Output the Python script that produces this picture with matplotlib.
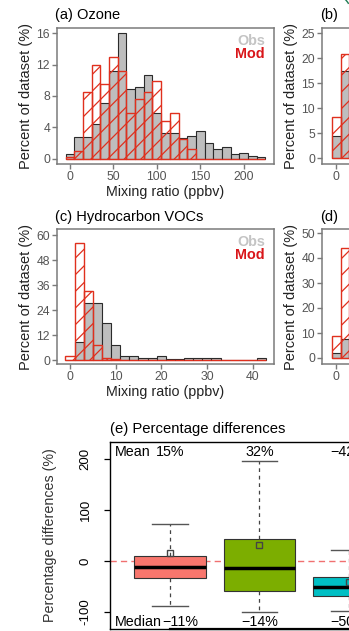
import matplotlib
matplotlib.use("Agg")
import matplotlib.pyplot as plt
from matplotlib.patches import Arc

plt.rcParams["font.family"] = ["Liberation Sans", "DejaVu Sans"]
plt.rcParams["axes.unicode_minus"] = False
plt.rcParams["hatch.linewidth"] = 0.9

# =========================
# Histogram data (percent of dataset in each bin)
# =========================
o3_bins = list(range(0, 230, 10))
o3_obs = [0.6, 2.8, 2.8, 4.4, 7.1, 11.2, 16.0, 8.9, 9.2, 10.7, 5.8, 3.3,
          3.3, 2.7, 2.9, 3.6, 2.0, 1.2, 1.5, 0.6, 0.7, 0.4, 0.2]
o3_mod = [0.2, 1.0, 8.5, 11.9, 9.5, 13.0, 11.2, 5.8, 7.6, 8.5, 9.9, 4.8,
          5.9, 2.5, 1.3, 0, 0, 0, 0, 0, 0, 0, 0]

voc_bins = list(range(0, 44, 2))
voc_obs = [0, 8.8, 27.5, 27.5, 17.6, 7.2, 1.9, 1.9, 1.0, 1.0, 2.0, 0.3,
           0.3, 1.0, 1.0, 1.0, 1.0, 0, 0, 0, 0, 1.0]
voc_mod = [1.9, 56.0, 33.3, 7.2, 1.0, 0.5, 0.2, 0, 0, 0, 0, 0,
           0, 0, 0, 0, 0, 0, 0, 0, 0, 0]

b_bins = [0, 1]
b_obs = [4.4, 17.5]
b_mod = [8.3, 20.8]

d_bins = [0, 1]
d_obs = [2.0, 7.5]
d_mod = [9.0, 44.0]

# =========================
# Box plot data (percentage differences, %)
# =========================
box_pos = [1, 2, 3]
box_whislo = [-87.5, -99.0, -97.0]
box_q1 = [-32.7, -58.7, -68.5]
box_med = [-11.0, -14.0, -50.0]
box_q3 = [9.8, 42.4, -30.7]
box_whishi = [72.0, 195.7, 21.5]
box_mean = [15.0, 32.0, -42.0]
box_colors = ["#F8766D", "#7CAE00", "#00BFC4"]

OBS_FILL = "#BEBEBE"
OBS_EDGE = "#2b2b2b"
MOD_RED = "#E0301E"
FRAME = "#7a7a7a"

W, H = 349, 631
fig = plt.figure(figsize=(W / 100, H / 100), dpi=100)


def px_rect(left, top, right, bottom):
    return [left / W, 1 - bottom / H, (right - left) / W, (bottom - top) / H]


def hist_panel(rect, title, bins, obs, mod, width, xlim, ylim, xticks, yticks,
               h_px, show_key=True):
    ax = fig.add_axes(rect)
    ax.bar(bins, obs, width=width, color=OBS_FILL, edgecolor=OBS_EDGE,
           linewidth=0.8, zorder=2)
    ax.bar(bins, mod, width=width, facecolor="none", edgecolor=MOD_RED,
           hatch="//", linewidth=1.0, zorder=3)
    ax.set_xlim(xlim)
    ax.set_ylim(ylim)
    ax.set_xticks(xticks)
    ax.set_yticks(yticks)
    for s in ax.spines.values():
        s.set_color(FRAME)
        s.set_linewidth(1.1)
    ax.tick_params(colors=FRAME, length=3.5, width=1, labelsize=8.8,
                   labelcolor="#555555", pad=1.5)
    ax.set_ylabel("Percent of dataset (%)", fontsize=10.5, color="#222222")
    ax.yaxis.label.set_va("center")
    ax.yaxis.set_label_coords(-31 / 217, 0.5)
    ax.set_xlabel("Mixing ratio (ppbv)", fontsize=10.3, color="#222222")
    ax.xaxis.label.set_va("center")
    ax.xaxis.set_label_coords(0.5, -28 / h_px)
    ax.text(-0.01, 1 + 12.5 / h_px, title, transform=ax.transAxes,
            ha="left", va="center", fontsize=10.5)
    if show_key:
        ax.text(0.958, 0.905, "Obs", transform=ax.transAxes, ha="right",
                va="center", fontsize=10.4, weight="bold", color="#C4C4C4")
        ax.text(0.958, 0.81, "Mod", transform=ax.transAxes, ha="right",
                va="center", fontsize=10.4, weight="bold", color="#D9161A")
    return ax


# (a) ozone and (c) hydrocarbon VOCs
hist_panel(px_rect(57, 28, 274, 164), "(a) Ozone", o3_bins, o3_obs, o3_mod,
           10, (-15, 235), (-0.65, 16.65), [0, 50, 100, 150, 200],
           [0, 4, 8, 12, 16], 136)
hist_panel(px_rect(57, 229, 274, 364), "(c) Hydrocarbon VOCs", voc_bins,
           voc_obs, voc_mod, 2, (-2.85, 44.7), (-1.9, 62.9),
           [0, 10, 20, 30, 40], [0, 12, 24, 36, 48, 60], 135)

# (b) and (d) sit at the right-hand column
hist_panel(px_rect(322, 28, 539, 164), "(b)", b_bins, b_obs, b_mod,
           1, (-1.556, 22.56), (-1.1, 26.0), [0], [0, 5, 10, 15, 20, 25], 136,
           show_key=False)
hist_panel(px_rect(322, 229, 539, 364), "(d)", d_bins, d_obs, d_mod,
           1, (-1.556, 22.56), (-2.4, 51.6), [0], [0, 10, 20, 30, 40, 50], 135,
           show_key=False)

# =========================
# (e) Percentage differences box plot
# =========================
axe = fig.add_axes(px_rect(110, 441.7, 498.4, 629.3))
stats = []
for i in range(len(box_pos)):
    stats.append({"whislo": box_whislo[i], "q1": box_q1[i], "med": box_med[i],
                  "q3": box_q3[i], "whishi": box_whishi[i],
                  "mean": box_mean[i], "fliers": []})

axe.axhline(0, color="#F07070", linewidth=1.0, linestyle=(0, (4.5, 3)),
            zorder=1)
bp = axe.bxp(stats, positions=box_pos, widths=0.8, capwidths=0.4,
             patch_artist=True, showmeans=True,
             boxprops=dict(edgecolor="#333333", linewidth=0.8),
             medianprops=dict(color="black", linewidth=2.5),
             whiskerprops=dict(color="#444444", linewidth=0.9,
                               linestyle=(0, (3, 3))),
             capprops=dict(color="#555555", linewidth=1.0),
             meanprops=dict(marker="s", markersize=5, markerfacecolor="none",
                            markeredgecolor="#444444", markeredgewidth=1.0))
for patch, c in zip(bp["boxes"], box_colors):
    patch.set_facecolor(c)
    patch.set_zorder(2)

axe.set_xlim(0.33, 4.67)
axe.set_ylim(-133.7, 233.5)
axe.set_xticks([])
axe.set_yticks([-100, 0, 100, 200])
axe.set_yticklabels(["-100", "0", "100", "200"], rotation=90, va="center")
axe.tick_params(axis="y", length=4.3, width=0.9, labelsize=9.5, pad=9,
                color="black")
for s in axe.spines.values():
    s.set_color("black")
    s.set_linewidth(1.0)
# x axis line running between the first and last box positions
axe.plot([1, 4], [-133.7, -133.7], color="black", linewidth=1.6,
         clip_on=False, zorder=5)

axe.set_ylabel("Percentage differences (%)", fontsize=10.3, color="#333333")
axe.yaxis.label.set_va("center")
axe.yaxis.set_label_coords(-60 / 388.4, 0.5)
axe.text(0, 1 + 12.7 / 187.6, "(e) Percentage differences",
         transform=axe.transAxes, ha="left", va="center", fontsize=10.7)

# mean and median annotations
axe.text(0.385, 214, "Mean", ha="left", va="center", fontsize=10.3)
axe.text(0.385, -119, "Median", ha="left", va="center", fontsize=10.3)
for i, p in enumerate(box_pos):
    mean_txt = f"{box_mean[i]:.0f}%".replace("-", "\u2212")
    med_txt = f"{box_med[i]:.0f}%".replace("-", "\u2212")
    axe.text(p, 214, mean_txt, ha="center", va="center", fontsize=10.3)
    axe.text(p + (0.12 if i == 0 else 0), -119, med_txt, ha="center",
             va="center", fontsize=10.3)

# small curved connector in the top right corner
fig.add_artist(Arc((336 / W, 1 - 10 / H), 28 / W, 28 / H, theta1=15,
                   theta2=65, transform=fig.transFigure, color="#1E7A52",
                   linewidth=1.0))

fig.savefig("out.png", dpi=100)
